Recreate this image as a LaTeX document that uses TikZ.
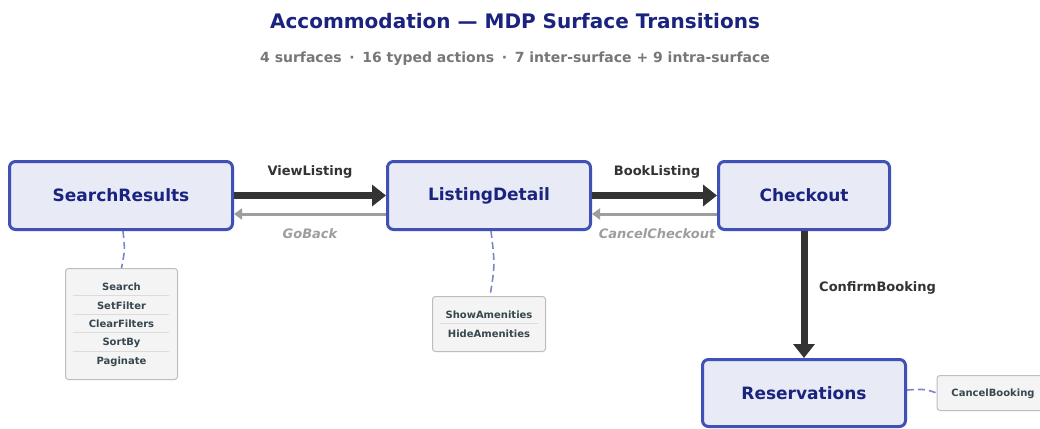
\documentclass[tikz,border=0pt]{standalone}
\usepackage{fontspec}
\setmainfont{DejaVu Sans}
\usetikzlibrary{arrows.meta}
\definecolor{navy}{HTML}{1A237E}
\definecolor{bluebd}{HTML}{3F51B5}
\definecolor{bluefill}{HTML}{E8EAF6}
\definecolor{darkarrow}{HTML}{333333}
\definecolor{greyarrow}{HTML}{9E9E9E}
\definecolor{subgrey}{HTML}{777777}
\definecolor{actfill}{HTML}{F4F4F4}
\definecolor{actbd}{HTML}{BDBDBD}
\definecolor{acttext}{HTML}{37474F}
\definecolor{sepline}{HTML}{DCDCDC}
\definecolor{dashblue}{HTML}{7986CB}
\tikzset{
  surface/.style={draw=bluebd, line width=3pt, fill=bluefill, rounded corners=6pt,
    minimum height=68pt, text=navy, font=\fontsize{17}{20}\selectfont\bfseries, inner sep=0pt},
  actbox/.style={draw=actbd, line width=1pt, fill=actfill, rounded corners=3pt, inner sep=0pt},
  actitem/.style={text=acttext, font=\fontsize{10}{12}\selectfont\bfseries, inner sep=0pt},
  fwd/.style={draw=darkarrow, line width=7pt, -{Triangle[length=14pt,width=21pt]}},
  back/.style={draw=greyarrow, line width=3pt, -{Triangle[length=8pt,width=11pt]}},
  fwdlabel/.style={text=darkarrow, font=\fontsize{13}{15}\selectfont\bfseries, inner sep=0pt},
  backlabel/.style={text=greyarrow, font=\fontsize{13}{15}\selectfont\bfseries\itshape, inner sep=0pt},
  dashcon/.style={draw=dashblue, line width=1.6pt, dash pattern=on 7pt off 4pt},
  sep/.style={draw=sepline, line width=1pt}
}
\begin{document}
\begin{tikzpicture}[x=1pt,y=-1pt]
\useasboundingbox[fill=white] (0,0) rectangle (1040,428);
\clip (0,0) rectangle (1040,428);
% title
\node[text=navy, font=\fontsize{20}{24}\selectfont\bfseries] (title) at (515,21) {Accommodation — MDP Surface Transitions};
\node[text=subgrey, font=\fontsize{14}{17}\selectfont\bfseries] (subtitle) at (515,58.5) {4 surfaces\hspace{0.55em}·\hspace{0.55em}16 typed actions\hspace{0.55em}·\hspace{0.55em}7 inter-surface + 9 intra-surface};
% surfaces
\node[surface, minimum width=223pt] (sr) at (121,195.5) {SearchResults};
\node[surface, minimum width=203pt] (ld) at (489,195.5) {ListingDetail};
\node[surface, minimum width=171pt] (co) at (804,195.5) {Checkout};
\node[surface, minimum width=203pt, minimum height=67pt] (re) at (804,393) {Reservations};
% transitions
\draw[fwd] (sr.east) -- (ld.west);
\draw[back] ([yshift=-18.5pt]ld.west) -- ([yshift=-18.5pt]sr.east);
\draw[fwd] (ld.east) -- (co.west);
\draw[back] ([yshift=-18.5pt]co.west) -- ([yshift=-18.5pt]ld.east);
\draw[fwd] (co.south) -- (re.north);
\node[fwdlabel] (l1) at (310,171.5) {ViewListing};
\node[backlabel] (l2) at (310,233.5) {GoBack};
\node[fwdlabel] (l3) at (657,171.5) {BookListing};
\node[backlabel] (l4) at (657,233.5) {CancelCheckout};
\node[fwdlabel, anchor=west] (l5) at (819,288) {ConfirmBooking};
% SearchResults actions
\node[actbox, minimum width=112pt, minimum height=111pt] (sra) at (121.5,324) {};
\node[actitem] (a1) at (121.5,287) {Search};
\node[actitem] (a2) at (121.5,305.5) {SetFilter};
\node[actitem] (a3) at (121.5,324) {ClearFilters};
\node[actitem] (a4) at (121.5,343) {SortBy};
\node[actitem] (a5) at (121.5,361.5) {Paginate};
\draw[sep] (73,295.5) -- (169,295.5);
\draw[sep] (73,314) -- (169,314);
\draw[sep] (73,332.5) -- (169,332.5);
\draw[sep] (73,351.5) -- (169,351.5);
\draw[dashcon] ([xshift=2pt]sr.south) .. controls (125,250) .. (sra.north);
% ListingDetail actions
\node[actbox, minimum width=113pt, minimum height=55pt] (lda) at (489,324) {};
\node[actitem] (b1) at (489,315) {ShowAmenities};
\node[actitem] (b2) at (489,333.5) {HideAmenities};
\draw[sep] (440,323.5) -- (538,323.5);
\draw[dashcon] ([xshift=2pt]ld.south) .. controls (495,265) .. ([xshift=1pt]lda.north);
% Reservations actions
\node[actbox, minimum width=110pt, minimum height=35pt] (rea) at (992,393) {};
\node[actitem] (c1) at (993,393.5) {CancelBooking};
\draw[dashcon] ([yshift=3pt]re.east) .. controls (925,389) .. (rea.west);
\end{tikzpicture}
\end{document}
